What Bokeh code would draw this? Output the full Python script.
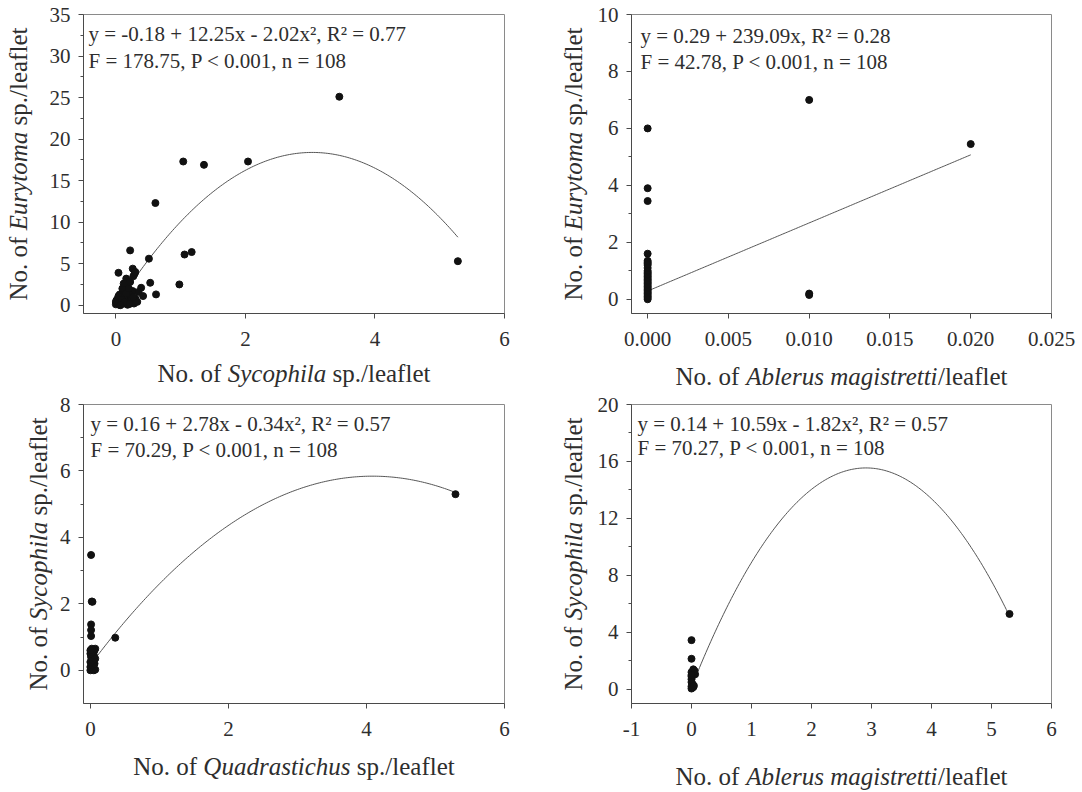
import numpy as np
from bokeh.plotting import figure
from bokeh.models import FixedTicker, Label, Range1d, NumeralTickFormatter
from bokeh.core.properties import value
from bokeh.layouts import row, column
from bokeh.embed import file_html
from bokeh.resources import INLINE

FONT = "Liberation Serif"
TXT = "#2e2e2e"
AX = "#4a4a4a"

# ---------------- data ----------------
# Panel A: Sycophila (x) vs Eurytoma (y)
a_sycophila = [3.45, 1.04, 1.36, 2.04, 0.61, 5.28, 0.22, 1.06, 1.17, 0.51, 0.04, 0.53, 0.98,
               0.62, 0.39, 0.42, 0.26, 0.29, 0.16, 0.18, 0.26, 0.27, 0.30, 0.22, 0.12,
               0.00, 0.02, 0.05, 0.03, 0.08, 0.06, 0.10, 0.12, 0.15, 0.18, 0.20, 0.22,
               0.25, 0.28, 0.30, 0.14, 0.10, 0.05, 0.18, 0.24, 0.33, 0.08, 0.01, 0.16,
               0.12, 0.20, 0.35, 0.06, 0.27, 0.00, 0.04, 0.09, 0.13, 0.21, 0.07]
a_eurytoma = [25.1, 17.3, 16.9, 17.3, 12.3, 5.3, 6.6, 6.1, 6.4, 5.6, 3.9, 2.7, 2.5,
              1.3, 2.1, 1.1, 4.4, 3.8, 3.2, 2.3, 1.7, 3.5, 4.0, 2.8, 0.9,
              0.1, 0.3, 0.5, 0.8, 1.0, 1.3, 1.5, 0.2, 0.6, 0.9, 0.3, 1.2,
              0.5, 0.2, 0.8, 1.8, 2.0, 0.05, 0.05, 0.9, 0.4, 0.3, 0.6, 1.4,
              2.6, 2.0, 1.6, 0.1, 1.0, 0.4, 1.1, 0.7, 0.35, 0.15, 0.0]
a_coef = [-0.18, 12.25, -2.02]
a_text = ["y = -0.18 + 12.25x - 2.02x², R² = 0.77", "F = 178.75, P < 0.001, n = 108"]

# Panel B: Ablerus magistretti (x) vs Eurytoma (y)
b_ablerus = [0.0] * 30 + [0.01, 0.01, 0.01, 0.02]
b_eurytoma = [6.0, 3.9, 3.45, 1.6, 1.35, 1.3, 1.25, 1.2, 1.1, 1.0, 0.95, 0.9, 0.85, 0.8, 0.75,
              0.7, 0.65, 0.6, 0.55, 0.5, 0.45, 0.4, 0.35, 0.3, 0.25, 0.2, 0.15, 0.1, 0.05, 0.0,
              7.0, 0.2, 0.15, 5.45]
b_coef = [0.29, 239.09]
b_text = ["y = 0.29 + 239.09x, R² = 0.28", "F = 42.78, P < 0.001, n = 108"]

# Panel C: Quadrastichus (x) vs Sycophila (y)
c_quadrastichus = [5.29, 0.01, 0.02, 0.03, 0.01, 0.01, 0.01, 0.36,
                   0.00, 0.02, 0.05, 0.07, 0.00, 0.03, 0.06, 0.00, 0.04, 0.07, 0.01,
                   0.05, 0.00, 0.03, 0.06, 0.07, 0.02, 0.00]
c_sycophila = [5.3, 3.47, 2.07, 2.06, 1.38, 1.21, 1.03, 0.98,
               0.0, 0.05, 0.0, 0.02, 0.1, 0.15, 0.2, 0.25, 0.3, 0.35, 0.4,
               0.45, 0.5, 0.55, 0.6, 0.65, 0.65, 0.6]
c_coef = [0.16, 2.78, -0.34]
c_text = ["y = 0.16 + 2.78x - 0.34x², R² =  0.57", "F = 70.29, P < 0.001, n = 108"]

# Panel D: Ablerus magistretti (x) vs Sycophila (y)
d_ablerus = [5.30, 0.00, 0.00, 0.03, 0.06, 0.00, 0.00, 0.00, 0.00, 0.02, 0.00, 0.03, 0.00,
             0.05, 0.00, 0.04]
d_sycophila = [5.29, 3.45, 2.14, 1.4, 1.05, 1.2, 0.9, 0.7, 0.5, 0.35, 0.2, 0.15, 0.05,
               1.3, 1.0, 0.25]
d_coef = [0.14, 10.59, -1.82]
d_text = ["y = 0.14 + 10.59x - 1.82x², R² = 0.57", "F = 70.27, P < 0.001, n = 108"]

# axis title pieces: (text, italic, width in em)
t_eury = [("No. of", False, 2.555), ("Eurytoma", True, 3.944), ("sp./leaflet", False, 3.916)]
t_syco = [("No. of", False, 2.555), ("Sycophila", True, 3.944), ("sp./leaflet", False, 3.916)]
t_quad = [("No. of", False, 2.555), ("Quadrastichus", True, 5.889), ("sp./leaflet", False, 3.916)]
t_able = [("No. of", False, 2.555), ("Ablerus magistretti", True, 7.695), ("/leaflet", False, 2.777)]
gaps_std = [0.25, 0.25]
gaps_able = [0.25, 0.0]

FS = 25.0


def x_title(width, height, parts, gaps, cx, cy):
    # cx, cy: pixels from left / top of the strip
    s = figure(width=width, height=height, output_backend="svg", toolbar_location=None,
               x_range=Range1d(0, width), y_range=Range1d(0, height),
               x_axis_type=None, y_axis_type=None, min_border=0)
    s.xgrid.visible = False
    s.ygrid.visible = False
    s.outline_line_color = None
    total = (sum(w for _, _, w in parts) + sum(gaps)) * FS
    pos = cx - total / 2.0
    for i, (t, it, w) in enumerate(parts):
        s.add_layout(Label(x=pos + w * FS / 2.0, y=height - cy, text=t, text_font=FONT,
                           text_font_size="25px",
                           text_font_style="italic" if it else "normal", text_color=TXT,
                           text_align="center", text_baseline="middle"))
        pos += w * FS + (gaps[i] * FS if i < len(gaps) else 0)
    return s


def y_title(width, height, bt, bb, parts, gaps, cx):
    # strip whose frame matches the neighbouring plot frame vertically;
    # title centred on that frame, reading bottom-to-top
    fh = height - bt - bb
    s = figure(width=width, height=height, output_backend="svg", toolbar_location=None,
               x_range=Range1d(0, width), y_range=Range1d(0, fh),
               x_axis_type=None, y_axis_type=None,
               min_border_left=0, min_border_right=0, min_border_top=bt, min_border_bottom=bb)
    s.xgrid.visible = False
    s.ygrid.visible = False
    s.outline_line_color = None
    total = (sum(w for _, _, w in parts) + sum(gaps)) * FS
    pos = fh / 2.0 - total / 2.0
    for i, (t, it, w) in enumerate(parts):
        s.add_layout(Label(x=cx, y=pos + w * FS / 2.0, text=t, text_font=FONT,
                           text_font_size="25px",
                           text_font_style="italic" if it else "normal", text_color=TXT,
                           text_align="center", text_baseline="middle", angle=np.pi / 2))
        pos += w * FS + (gaps[i] * FS if i < len(gaps) else 0)
    return s


def panel(xs, ys, coef, texts, xr, yr, xticks, yticks, yminor,
          width, height, bl, br, bt, bb, ann, xfmt=None, xover=None):
    p = figure(width=width, height=height, output_backend="svg", toolbar_location=None,
               x_range=Range1d(*xr), y_range=Range1d(*yr),
               min_border_left=bl, min_border_right=br, min_border_top=bt, min_border_bottom=bb)
    p.xgrid.visible = False
    p.ygrid.visible = False
    p.outline_line_color = "#8a8a8a"
    p.outline_line_width = 1
    fw = width - bl - br
    fh = height - bt - bb

    def dx(px):  # px from frame left
        return xr[0] + px / fw * (xr[1] - xr[0])

    def dy(py):  # py from frame top
        return yr[1] - py / fh * (yr[1] - yr[0])

    for ax in (p.xaxis[0], p.yaxis[0]):
        ax.axis_line_color = AX
        ax.major_tick_line_color = AX
        ax.minor_tick_line_color = AX
        ax.major_tick_in = 0
        ax.major_tick_out = 5
        ax.minor_tick_in = 0
        ax.minor_tick_out = 3
        ax.major_label_text_font = FONT
        ax.major_label_text_font_size = "21px"
        ax.major_label_text_color = TXT
    p.xaxis[0].ticker = FixedTicker(ticks=xticks, minor_ticks=[])
    p.yaxis[0].ticker = FixedTicker(ticks=yticks, minor_ticks=yminor)
    p.xaxis[0].major_label_standoff = 13
    p.yaxis[0].major_label_standoff = 8
    if xfmt is not None:
        p.xaxis[0].formatter = xfmt
    if xover is not None:
        p.xaxis[0].major_label_overrides = xover

    cx = np.linspace(min(xs), max(xs), 200)
    cy = np.zeros_like(cx)
    for k, c in enumerate(coef):
        cy = cy + c * cx ** k
    p.line(cx, cy, line_color="#555555", line_width=1)
    p.scatter(xs, ys, size=7, fill_color="#111111", line_color="#111111")

    ax_, y1_, y2_ = ann
    for t, py in zip(texts, (y1_, y2_)):
        p.add_layout(Label(x=dx(ax_), y=dy(py), text=t, text_font=FONT, text_font_size="21px",
                           text_color=TXT, text_align="left", text_baseline="middle"))
    return p


# ---- cell 1 (top-left) ----
p1 = panel(a_sycophila, a_eurytoma, a_coef, a_text, (-0.5, 6), (-1, 35),
           [0, 2, 4, 6], list(range(0, 36, 5)), [2.5, 7.5, 12.5, 17.5, 22.5, 27.5, 32.5],
           512, 356, 47, 44, 14, 43, (5, 19, 46))
cell1 = column(row(y_title(36, 356, 14, 43, t_eury, gaps_std, 18), p1),
               x_title(548, 36, t_syco, gaps_std, 293.5, 17))

# ---- cell 2 (top-right) ----
p2 = panel(b_ablerus, b_eurytoma, b_coef, b_text, (-0.001, 0.025), (-0.5, 10),
           [0, 0.005, 0.01, 0.015, 0.02, 0.025], [0, 2, 4, 6, 8, 10], [1, 3, 5, 7, 9],
           489, 356, 43, 26, 14, 43, (9, 21, 47),
           xfmt=NumeralTickFormatter(format="0.000"))
cell2 = column(row(y_title(40, 356, 14, 43, t_eury, gaps_std, 25), p2),
               x_title(529, 36, t_able, gaps_able, 293, 20))

# ---- cell 3 (bottom-left) ----
p3 = panel(c_quadrastichus, c_sycophila, c_coef, c_text, (-0.1, 6), (-1, 8),
           [0, 2, 4, 6], [0, 2, 4, 6, 8], [1, 3, 5, 7],
           492, 354, 27, 44, 12, 43, (7, 19, 45))
cell3 = column(row(y_title(56, 354, 12, 43, t_syco, gaps_std, 38), p3),
               x_title(548, 44, t_quad, gaps_std, 293.5, 20))

# ---- cell 4 (bottom-right) ----
p4 = panel(d_ablerus, d_sycophila, d_coef, d_text, (-1, 6), (-1, 20),
           [-1, 0, 1, 2, 3, 4, 5, 6], [0, 4, 8, 12, 16, 20], [2, 6, 10, 14, 18],
           489, 354, 43, 26, 12, 43, (6, 19, 43),
           xover={-1: "-1"})
cell4 = column(row(y_title(40, 354, 12, 43, t_syco, gaps_std, 25), p4),
               x_title(529, 44, t_able, gaps_able, 293, 30))

layout = column(row(cell1, cell2), row(cell3, cell4))
open("out.html", "w").write(file_html(layout, INLINE))
